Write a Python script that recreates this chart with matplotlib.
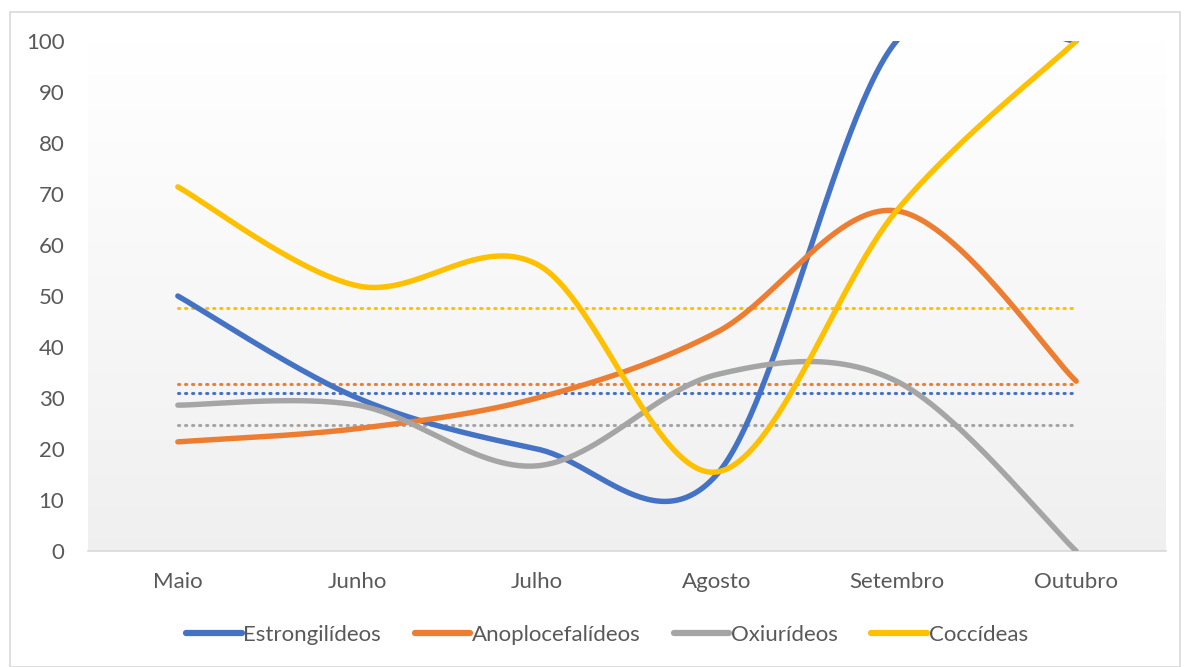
import numpy as np
import matplotlib.pyplot as plt
from matplotlib.patches import Rectangle

meses = ['Maio', 'Junho', 'Julho', 'Agosto', 'Setembro', 'Outubro']
estrongilideos = [50, 30, 20, 15, 100, 100]
anoplocefalideos = [21.4, 24, 30, 42.9, 66.7, 33.3]
oxiurideos = [28.6, 28.6, 16.7, 34.6, 33.3, 0]
coccideas = [71.4, 52, 56.2, 15.5, 66.7, 100]
medias = [31.0, 32.7, 24.8, 47.6]

nomes = ['Estrongilídeos', 'Anoplocefalídeos', 'Oxiurídeos', 'Coccídeas']
cores = ['#4472C4', '#ED7D31', '#A5A5A5', '#FFC000']
series = [estrongilideos, anoplocefalideos, oxiurideos, coccideas]


def suavizar(y, n=60):
    # bezier with catmull-rom style tangents (like excel "smoothed line")
    y = np.asarray(y, float)
    x = np.arange(len(y), dtype=float)
    xs, ys = [], []
    for i in range(len(y) - 1):
        p0 = np.array([x[max(i - 1, 0)], y[max(i - 1, 0)]])
        p1 = np.array([x[i], y[i]])
        p2 = np.array([x[i + 1], y[i + 1]])
        p3 = np.array([x[min(i + 2, len(y) - 1)], y[min(i + 2, len(y) - 1)]])
        c1 = p1 + (p2 - p0) / 6
        c2 = p2 - (p3 - p1) / 6
        t = np.linspace(0, 1, n)[:, None]
        b = ((1 - t) ** 3 * p1 + 3 * (1 - t) ** 2 * t * c1
             + 3 * (1 - t) * t ** 2 * c2 + t ** 3 * p2)
        xs.append(b[:, 0])
        ys.append(b[:, 1])
    return np.concatenate(xs), np.concatenate(ys)


plt.rcParams['font.family'] = ['Lato', 'DejaVu Sans']
fig = plt.figure(figsize=(11.84, 6.67), dpi=100)
fig.patches.append(Rectangle((10 / 1184, 0), 1170 / 1184, 655 / 667,
                             transform=fig.transFigure, fill=False,
                             edgecolor='#d9d9d9', linewidth=1.2))
ax = fig.add_axes([88 / 1184, 116 / 667, 1078 / 1184, 510 / 667])

grad = np.linspace(1.0, 0.94, 256)[:, None]
ax.imshow(np.dstack([grad, grad, grad]), extent=[0, 1, 0, 1], aspect='auto',
          transform=ax.transAxes, zorder=0)

pos = np.arange(len(meses))
for nome, cor, vals, m in zip(nomes, cores, series, medias):
    xs, ys = suavizar(vals)
    ax.plot(xs, ys, color=cor, lw=3.9, solid_capstyle='round', label=nome,
            zorder=3)
    ax.plot([pos[0], pos[-1]], [m, m], color=cor, lw=2.2, ls=(0, (0.4, 1.9)),
            dash_capstyle='round', zorder=2)

ax.set_xlim(-0.5, len(meses) - 0.5)
ax.set_ylim(0, 100)
ax.set_yticks(range(0, 101, 10))
ax.set_xticks(pos)
ax.set_xticklabels(meses)
ax.tick_params(length=0, labelsize=16, colors='#595959')
ax.tick_params(axis='y', pad=17)
ax.tick_params(axis='x', pad=15)
for s in ['top', 'right', 'left']:
    ax.spines[s].set_visible(False)
ax.spines['bottom'].set_color('#d9d9d9')
ax.spines['bottom'].set_linewidth(1.2)

leg = fig.legend(*ax.get_legend_handles_labels(), loc='center',
                 bbox_to_anchor=(607 / 1184, 32 / 667), ncol=4, frameon=False,
                 fontsize=16, handlelength=2.5, handletextpad=0.08,
                 columnspacing=1.5)
for t in leg.get_texts():
    t.set_color('#595959')
for h in leg.get_lines():
    h.set_linewidth(4.5)

fig.savefig('out.png', dpi=100)
